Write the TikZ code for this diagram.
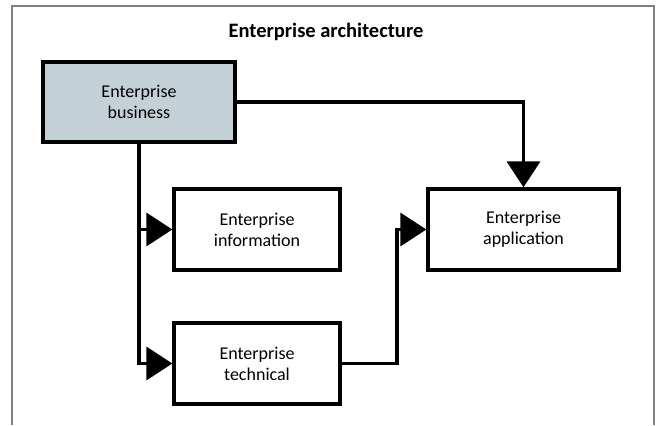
\documentclass[tikz,border=0pt]{standalone}
\usepackage{fontspec}
\setmainfont{Carlito}
\usetikzlibrary{arrows.meta}
\definecolor{bizfill}{RGB}{195,209,215}
\definecolor{framegray}{RGB}{128,128,128}
\tikzset{
  box/.style={draw=black, line width=3.3pt, inner sep=0pt, align=center,
    font=\fontsize{18}{21}\selectfont},
  conn/.style={draw=black, line width=3.6pt,
    -{Triangle[length=26pt,width=33pt]}},
}
\begin{document}
\begin{tikzpicture}[x=1pt,y=-1pt]
\useasboundingbox (0,0) rectangle (660,425);
\draw[framegray, line width=1.5pt] (12,425) -- (12,6) -- (654,6) -- (654,425);
\node[font=\fontsize{20.5}{24}\selectfont\bfseries] (title) at (326,32) {Enterprise architecture};
\node[box, fill=bizfill, minimum width=192pt, minimum height=80pt] (biz) at (139,102) {Enterprise\\business};
\node[box, minimum width=166pt, minimum height=81pt] (info) at (257,229.5) {Enterprise\\information};
\node[box, minimum width=166pt, minimum height=81pt] (tech) at (257,363.5) {Enterprise\\technical};
\node[box, minimum width=191pt, minimum height=81pt] (app) at (523.5,229.5) {Enterprise\\application};
\coordinate (jx) at (397,0);
\draw[conn] (biz.south) |- (info.west);
\draw[conn] (biz.south) |- (tech.west);
\draw[conn] (biz.east) -| (app.north);
\draw[conn] (tech.east) -| (jx |- app.west) -- (app.west);
\end{tikzpicture}
\end{document}
